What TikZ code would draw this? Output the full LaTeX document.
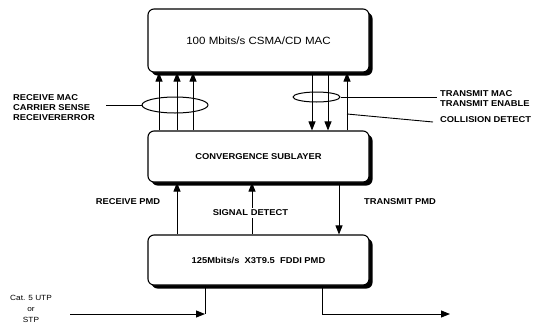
\documentclass[tikz,border=0pt]{standalone}
\usepackage{fontspec}
\setmainfont{Liberation Sans}
\newfontfamily\lblfont[FakeStretch=1.1]{Liberation Sans}
\usetikzlibrary{arrows.meta,shadows,shapes.geometric}
\begin{document}
\begin{tikzpicture}[x=1pt,y=-1pt,
  box/.style={draw, line width=1.1pt, rounded corners=6pt, fill=white,
    drop shadow={shadow xshift=3.5pt, shadow yshift=-3.5pt, fill=black, opacity=1},
    minimum width=221pt, inner sep=0pt},
  lbl/.style={font=\lblfont\bfseries\fontsize{8.5}{10}\selectfont, inner sep=0pt},
  ttl/.style={font=\lblfont\fontsize{10.5}{12}\selectfont},
  arr/.style={line width=0.9pt, -{Triangle[length=9pt,width=7pt]}},
  wire/.style={line width=0.9pt},
  ell/.style={ellipse, draw, line width=1pt, inner sep=0pt}]
\useasboundingbox (0,0) rectangle (540,327);
% boxes
\node[box, ttl, minimum height=63pt] (mac) at (258.5,40.5) {100 Mbits/s CSMA/CD MAC};
\node[box, lbl, minimum height=51pt] (conv) at (258.5,156.5) {CONVERGENCE SUBLAYER};
\node[box, lbl, minimum height=50pt] (fddi) at (258.5,260) {125Mbits/s\ \ X3T9.5\ \ FDDI PMD};
% receive side up arrows
\foreach \x [count=\i] in {159,177,193} {
  \coordinate (ru\i) at (\x,0);
  \draw[arr] (conv.north -| ru\i) -- (mac.south -| ru\i);
}
% transmit side down arrows
\foreach \x [count=\i] in {312,328} {
  \coordinate (td\i) at (\x,0);
  \draw[arr] (mac.south -| td\i) -- (conv.north -| td\i);
}
\coordinate (cdx) at (347,0);
\draw[arr] (conv.north -| cdx) -- (mac.south -| cdx);
% ellipses and labels
\node[ell, minimum width=66pt, minimum height=16pt] (e1) at (175,105) {};
\coordinate (e1end) at (106,105);
\draw[wire] (e1.west) -- (e1end);
\node[lbl, align=left, anchor=west] (rxlbl) at (13,108) {RECEIVE MAC\\CARRIER SENSE\\RECEIVERERROR};
\node[ell, minimum width=47pt, minimum height=10pt] (e2) at (316.5,97) {};
\coordinate (e2end) at (437,97);
\draw[wire] (e2.east) -- (e2end);
\node[lbl, align=left, anchor=west] (txlbl) at (440,99) {TRANSMIT MAC\\TRANSMIT ENABLE};
\coordinate (cd1) at (347,114);
\coordinate (cd2) at (433,122);
\draw[wire] (cd1) -- (cd2);
\node[lbl, anchor=west] (cdlbl) at (440,120) {COLLISION DETECT};
% PMD arrows
\coordinate (rp) at (177,0);
\draw[arr] (fddi.north -| rp) -- (conv.south -| rp);
\coordinate (sdx) at (252,0);
\draw[arr] (fddi.north -| sdx) -- (conv.south -| sdx);
\node[lbl, fill=white, inner sep=2pt] (sd) at (250.5,213) {SIGNAL DETECT};
\coordinate (tp) at (339,0);
\draw[arr] (conv.south -| tp) -- (fddi.north -| tp);
\node[lbl] (rpl) at (128,202) {RECEIVE PMD};
\node[lbl] (tpl) at (400,202) {TRANSMIT PMD};
% media
\coordinate (in) at (70,314);
\coordinate (j1) at (205,314);
\draw[wire] (fddi.south -| j1) -- (j1);
\draw[arr] (in) -- (j1);
\coordinate (j2) at (322,314);
\coordinate (out) at (450,314);
\draw[arr] (fddi.south -| j2) -- (j2) -- (out);
\node[font=\lblfont\fontsize{7.5}{11}\selectfont, align=center, inner sep=0pt] (cat) at (31,309) {Cat. 5 UTP\\or\\STP};
\end{tikzpicture}
\end{document}
